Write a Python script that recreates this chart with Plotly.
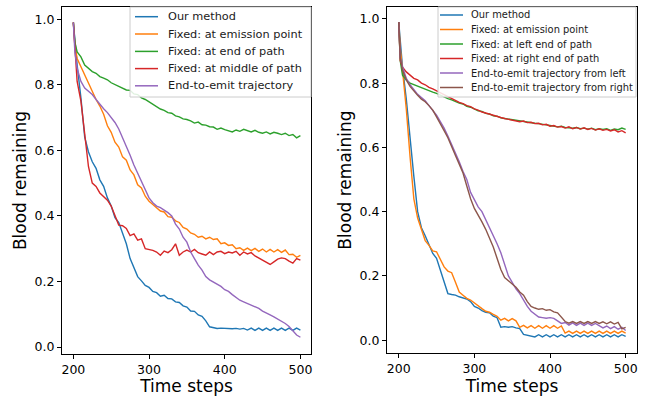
import plotly.graph_objects as go

T = [200, 202] + list(range(205, 501, 5))

# ---- Left panel ----
L_LABELS = ["Our method", "Fixed: at emission point", "Fixed: at end of path",
            "Fixed: at middle of path", "End-to-emit trajectory"]
L_blue = [0.99, 0.93, 0.86, 0.76, 0.64, 0.595, 0.565, 0.545, 0.51, 0.49,
          0.455, 0.43, 0.395, 0.38, 0.35, 0.315, 0.27, 0.245, 0.215, 0.202,
          0.188, 0.182, 0.17, 0.166, 0.155, 0.158, 0.148, 0.147, 0.138, 0.136,
          0.126, 0.122, 0.11, 0.109, 0.098, 0.094, 0.08, 0.062, 0.06, 0.057,
          0.058, 0.057, 0.058, 0.056, 0.057, 0.055, 0.057, 0.052, 0.058, 0.051,
          0.058, 0.051, 0.058, 0.051, 0.058, 0.051, 0.058, 0.051, 0.058, 0.051,
          0.058, 0.052]
L_orange = [0.99, 0.92, 0.88, 0.855, 0.825, 0.80, 0.78, 0.755, 0.735, 0.71,
            0.675, 0.655, 0.625, 0.61, 0.58, 0.57, 0.54, 0.525, 0.495, 0.485,
            0.46, 0.445, 0.435, 0.425, 0.415, 0.412, 0.398, 0.396, 0.385, 0.38,
            0.365, 0.36, 0.348, 0.344, 0.335, 0.338, 0.33, 0.335, 0.328, 0.33,
            0.315, 0.318, 0.31, 0.312, 0.30, 0.303, 0.295, 0.302, 0.294, 0.301,
            0.292, 0.299, 0.29, 0.298, 0.29, 0.297, 0.289, 0.296, 0.282, 0.283,
            0.274, 0.28]
L_green = [0.99, 0.93, 0.90, 0.885, 0.86, 0.85, 0.84, 0.835, 0.825, 0.82,
           0.815, 0.806, 0.80, 0.795, 0.79, 0.784, 0.783, 0.772, 0.77, 0.76,
           0.755, 0.748, 0.74, 0.733, 0.726, 0.722, 0.715, 0.713, 0.705, 0.702,
           0.696, 0.694, 0.69, 0.683, 0.686, 0.678, 0.677, 0.672, 0.671, 0.664,
           0.668, 0.663, 0.66, 0.656, 0.662, 0.658, 0.664, 0.66, 0.656, 0.661,
           0.655, 0.652, 0.656, 0.65, 0.655, 0.652, 0.648, 0.652, 0.645, 0.648,
           0.638, 0.645]
L_red = [0.99, 0.90, 0.81, 0.75, 0.64, 0.55, 0.50, 0.49, 0.47, 0.46,
         0.448, 0.43, 0.40, 0.372, 0.37, 0.362, 0.34, 0.345, 0.326, 0.33,
         0.30, 0.298, 0.295, 0.29, 0.28, 0.293, 0.288, 0.297, 0.315, 0.28,
         0.29, 0.296, 0.29, 0.298, 0.288, 0.284, 0.28, 0.29, 0.282, 0.29,
         0.292, 0.285, 0.29, 0.287, 0.292, 0.28, 0.29, 0.284, 0.288, 0.278,
         0.272, 0.265, 0.258, 0.252, 0.26, 0.268, 0.272, 0.27, 0.262, 0.256,
         0.27, 0.265]
L_purple = [0.99, 0.90, 0.85, 0.81, 0.79, 0.78, 0.77, 0.755, 0.74, 0.727,
            0.715, 0.70, 0.685, 0.665, 0.64, 0.615, 0.585, 0.555, 0.53, 0.505,
            0.485, 0.455, 0.44, 0.43, 0.425, 0.418, 0.41, 0.40, 0.375, 0.36,
            0.335, 0.32, 0.29, 0.27, 0.25, 0.235, 0.215, 0.205, 0.198, 0.19,
            0.185, 0.175, 0.17, 0.16, 0.152, 0.143, 0.138, 0.133, 0.128, 0.122,
            0.118, 0.11, 0.105, 0.098, 0.092, 0.085, 0.08, 0.072, 0.063, 0.05,
            0.037, 0.03]

# ---- Right panel ----
R_LABELS = ["Our method", "Fixed: at emission point", "Fixed: at left end of path",
            "Fixed: at right end of path", "End-to-emit trajectory from left",
            "End-to-emit trajectory from right"]
R_blue = [0.99, 0.92, 0.85, 0.75, 0.62, 0.51, 0.40, 0.35, 0.325, 0.30,
          0.27, 0.255, 0.22, 0.18, 0.145, 0.142, 0.14, 0.135, 0.132, 0.128,
          0.12, 0.105, 0.10, 0.092, 0.087, 0.085, 0.075, 0.07, 0.04, 0.042,
          0.04, 0.042, 0.038, 0.036, 0.018, 0.016, 0.012, 0.01, 0.017, 0.01,
          0.017, 0.01, 0.017, 0.01, 0.017, 0.01, 0.017, 0.01, 0.017, 0.01,
          0.017, 0.01, 0.017, 0.01, 0.017, 0.01, 0.017, 0.01, 0.017, 0.01,
          0.017, 0.012]
R_orange = [0.99, 0.91, 0.84, 0.72, 0.57, 0.44, 0.38, 0.343, 0.31, 0.295,
            0.278, 0.275, 0.25, 0.228, 0.215, 0.21, 0.18, 0.15, 0.14, 0.13,
            0.125, 0.115, 0.105, 0.098, 0.09, 0.087, 0.08, 0.074, 0.062, 0.068,
            0.06, 0.067, 0.06, 0.04, 0.046, 0.038, 0.045, 0.037, 0.045, 0.037,
            0.045, 0.037, 0.045, 0.037, 0.044, 0.022, 0.028, 0.021, 0.028, 0.021,
            0.028, 0.021, 0.028, 0.021, 0.028, 0.021, 0.028, 0.021, 0.028, 0.021,
            0.028, 0.022]
R_green = [0.99, 0.87, 0.825, 0.81, 0.80, 0.795, 0.79, 0.785, 0.78, 0.775,
           0.772, 0.768, 0.762, 0.758, 0.752, 0.748, 0.742, 0.738, 0.735, 0.728,
           0.725, 0.72, 0.714, 0.712, 0.706, 0.704, 0.698, 0.697, 0.692, 0.69,
           0.688, 0.685, 0.684, 0.683, 0.68, 0.678, 0.677, 0.675, 0.674, 0.671,
           0.67, 0.668, 0.666, 0.664, 0.666, 0.662, 0.661, 0.66, 0.662, 0.658,
           0.66, 0.657, 0.66, 0.655, 0.658, 0.656, 0.658, 0.653, 0.657, 0.655,
           0.66, 0.656]
R_red = [0.99, 0.87, 0.85, 0.835, 0.825, 0.815, 0.81, 0.80, 0.795, 0.787,
         0.782, 0.776, 0.77, 0.763, 0.757, 0.75, 0.746, 0.74, 0.736, 0.73,
         0.727, 0.72, 0.716, 0.71, 0.707, 0.703, 0.70, 0.695, 0.693, 0.69,
         0.688, 0.686, 0.684, 0.68, 0.682, 0.677, 0.678, 0.674, 0.675, 0.67,
         0.672, 0.666, 0.668, 0.663, 0.665, 0.66, 0.664, 0.658, 0.662, 0.657,
         0.661, 0.656, 0.659, 0.654, 0.658, 0.653, 0.656, 0.651, 0.655, 0.648,
         0.652, 0.645]
R_purple = [0.99, 0.88, 0.85, 0.815, 0.795, 0.78, 0.765, 0.755, 0.745, 0.73,
            0.715, 0.70, 0.68, 0.66, 0.635, 0.61, 0.58, 0.555, 0.525, 0.50,
            0.46, 0.435, 0.415, 0.40, 0.375, 0.355, 0.33, 0.30, 0.272, 0.235,
            0.20, 0.18, 0.16, 0.145, 0.125, 0.105, 0.09, 0.08, 0.072, 0.07,
            0.068, 0.07, 0.068, 0.06, 0.052, 0.055, 0.047, 0.054, 0.046, 0.053,
            0.046, 0.053, 0.046, 0.052, 0.045, 0.038, 0.044, 0.036, 0.042, 0.034,
            0.04, 0.03]
R_brown = [0.99, 0.88, 0.84, 0.81, 0.79, 0.775, 0.762, 0.75, 0.742, 0.73,
           0.716, 0.695, 0.675, 0.652, 0.63, 0.605, 0.575, 0.548, 0.52, 0.48,
           0.44, 0.41, 0.39, 0.368, 0.345, 0.32, 0.29, 0.255, 0.22, 0.195,
           0.185, 0.178, 0.165, 0.15, 0.14, 0.12, 0.105, 0.10, 0.096, 0.098,
           0.093, 0.095, 0.088, 0.085, 0.07, 0.058, 0.053, 0.058, 0.052, 0.058,
           0.052, 0.058, 0.052, 0.058, 0.052, 0.057, 0.051, 0.057, 0.05, 0.055,
           0.035, 0.04]

COLORS = ["#1f77b4", "#ff7f0e", "#2ca02c", "#d62728", "#9467bd", "#8c564b"]

left = [L_blue, L_orange, L_green, L_red, L_purple]
right = [R_blue, R_orange, R_green, R_red, R_purple, R_brown]
for s in left + right:
    assert len(s) == len(T), len(s)

FONT = "DejaVu Sans"
W, H = 649, 396


def px(x):
    return x / W


def py(y):
    return 1 - y / H


fig = go.Figure()
for i, (lab, ys) in enumerate(zip(L_LABELS, left)):
    fig.add_trace(go.Scatter(x=T, y=ys, mode="lines", name=lab,
                             line=dict(color=COLORS[i], width=1.4),
                             xaxis="x", yaxis="y", showlegend=False))
for i, (lab, ys) in enumerate(zip(R_LABELS, right)):
    fig.add_trace(go.Scatter(x=T, y=ys, mode="lines", name=lab,
                             line=dict(color=COLORS[i], width=1.4),
                             xaxis="x2", yaxis="y2", showlegend=False))


def xax(domain, rng, anchor):
    return dict(domain=domain, range=rng, anchor=anchor,
                tickvals=[200, 300, 400, 500], ticks="outside", ticklen=4,
                tickwidth=1, tickcolor="black",
                showline=True, linecolor="black", linewidth=1, mirror=True,
                showgrid=False, zeroline=False, automargin=False,
                tickfont=dict(family=FONT, size=12.5, color="black"),
                title=dict(text="Time steps", standoff=3,
                           font=dict(family=FONT, size=17, color="black")))


def yax(domain, rng, anchor):
    return dict(domain=domain, range=rng, anchor=anchor,
                tickvals=[0, 0.2, 0.4, 0.6, 0.8, 1.0], tickformat=".1f",
                ticks="outside", ticklen=4, tickwidth=1, tickcolor="black",
                showline=True, linecolor="black", linewidth=1, mirror=True,
                showgrid=False, zeroline=False, automargin=False,
                tickfont=dict(family=FONT, size=12.5, color="black"),
                title=dict(text="Blood remaining", standoff=3,
                           font=dict(family=FONT, size=17, color="black")))


# Legend boxes drawn in matplotlib style (line sample + label)
def add_legend(labels, box, rows, line_x, text_x, size):
    x0, y0, x1, y1 = box
    fig.add_shape(type="rect", xref="paper", yref="paper",
                  x0=px(x0), x1=px(x1), y0=py(y1), y1=py(y0),
                  fillcolor="rgba(255,255,255,0.85)",
                  line=dict(color="#cccccc", width=1), layer="above")
    for i, (lab, yy) in enumerate(zip(labels, rows)):
        fig.add_shape(type="line", xref="paper", yref="paper",
                      x0=px(line_x[0]), x1=px(line_x[1]), y0=py(yy), y1=py(yy),
                      line=dict(color=COLORS[i], width=1.5), layer="above")
        fig.add_annotation(xref="paper", yref="paper", x=px(text_x), y=py(yy),
                           xanchor="left", yanchor="middle", showarrow=False,
                           text=lab, font=dict(family=FONT, size=size,
                                               color="#1a1a1a"))


add_legend(L_LABELS, (130, 7, 311, 97), [16.7, 34.0, 51.4, 68.6, 85.8],
           (135, 158), 166, 11.3)
add_legend(R_LABELS, (438, 7, 636, 97), [15.0, 29.5, 44.0, 58.5, 73.0, 87.5],
           (440, 463), 469, 9.9)

fig.update_layout(
    width=W, height=H,
    margin=dict(l=0, r=0, t=0, b=0),
    plot_bgcolor="white", paper_bgcolor="white",
    font=dict(family=FONT, color="black"),
    xaxis=xax([62 / W, 311 / W], [185, 514], "y"),
    yaxis=yax([(H - 354) / H, (H - 7) / H], [-0.021, 1.037], "x"),
    xaxis2=xax([387 / W, 637 / W], [184.5, 515], "y2"),
    yaxis2=yax([(H - 353) / H, (H - 7) / H], [-0.04, 1.037], "x2"),
    showlegend=False,
)

fig.write_html("out.html", config={"displayModeBar": False},
               post_script="document.body.style.margin='0';")
